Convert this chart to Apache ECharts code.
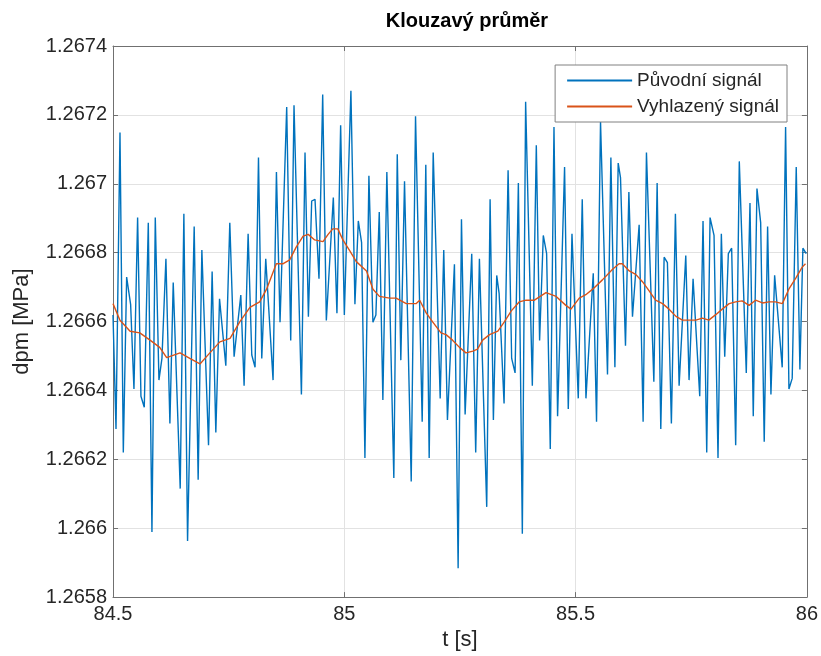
<!DOCTYPE html>
<html>
<head>
<meta charset="utf-8">
<script src="https://cdn.jsdelivr.net/npm/echarts@6/dist/echarts.min.js"></script>
<style>html,body{margin:0;padding:0;background:#fff}#c{width:821px;height:656px}</style>
</head>
<body>
<div id="c"></div>
<script>
var titleText = 'Klouzavý průměr';
var xName = 't [s]';
var yName = 'dpm [MPa]';
var seriesNames = ['Původní signál', 'Vyhlazený signál'];
var xTicks = [84.5, 85, 85.5, 86];
var yTicks = [1.2658, 1.266, 1.2662, 1.2664, 1.2666, 1.2668, 1.267, 1.2672, 1.2674];

var tOrig = [
84.5000,84.5065,84.5151,84.5223,84.5295,84.5381,84.5453,84.5532,84.5604,84.5676,84.5763,84.5842,84.5914,84.5993,84.6058,84.6144,84.6230,84.6302,84.6453,84.6532,84.6612,84.6755,84.6841,84.6921,84.7065,84.7143,84.7223,84.7303,84.7439,
84.7525,84.7618,84.7763,84.7834,84.7921,84.8000,84.8071,84.8145,84.8216,84.8302,84.8460,84.8533,84.8611,84.8755,84.8842,84.8913,84.9073,84.9151,84.9224,84.9295,84.9367,84.9453,84.9533,84.9612,84.9763,84.9841,84.9921,
85.0001,85.0143,85.0230,85.0303,85.0374,85.0446,85.0532,85.0619,85.0683,85.0756,85.0834,85.0920,85.1071,85.1145,85.1222,85.1302,85.1447,85.1540,85.1684,85.1762,85.1835,85.1922,85.2073,85.2150,85.2230,85.2381,85.2461,
85.2533,85.2612,85.2755,85.2841,85.2921,85.3079,85.3152,85.3223,85.3295,85.3347,85.3454,85.3541,85.3618,85.3692,85.3763,85.3849,85.3920,85.4065,85.4151,85.4222,85.4302,85.4374,85.4453,85.4533,85.4611,85.4762,85.4842,85.4922,
85.5058,85.5144,85.5224,85.5382,85.5453,85.5539,85.5690,85.5763,85.5850,85.5921,85.5971,85.6079,85.6152,85.6230,85.6374,85.6460,85.6532,85.6692,85.6763,85.6842,85.6914,85.6985,85.7071,85.7158,85.7238,85.7382,
85.7453,85.7540,85.7684,85.7755,85.7835,85.7907,85.7993,85.8079,85.8151,85.8224,85.8302,85.8374,85.8461,85.8539,85.8690,85.8770,85.8841,85.8921,85.9001,85.9078,85.9151,85.9223,85.9303,85.9467,85.9540,85.9612,85.9683,85.9770,85.9849,85.9914,85.9986
];
var vOrig = [
1.266619,1.266288,1.267149,1.266220,1.266729,1.266650,1.266404,1.266902,1.266383,1.266351,1.266887,1.265989,1.266902,1.266430,1.266493,1.266782,1.266304,1.266713,1.266115,1.266913,1.265963,1.266876,1.266141,1.266808,1.266241,1.266745,1.266278,1.266666,1.266472,
1.266887,1.266498,1.266677,1.266414,1.266855,1.266503,1.266467,1.267076,1.266493,1.266782,1.266430,1.267034,1.266598,1.267223,1.266545,1.267228,1.266388,1.267091,1.266614,1.266950,1.266955,1.266724,1.267259,1.266603,1.266960,1.266624,1.267170,
1.266619,1.267270,1.266650,1.266892,1.266829,1.266204,1.267023,1.266598,1.266619,1.266918,1.266372,1.267034,1.266146,1.267086,1.266488,1.267007,1.266136,1.267196,1.266309,1.267055,1.266204,1.267091,1.266377,1.266808,1.266314,1.266766,1.265884,
1.266897,1.266330,1.266797,1.266220,1.266782,1.266062,1.266955,1.266314,1.266734,1.266682,1.266362,1.267039,1.266493,1.266451,1.267002,1.265984,1.267238,1.266414,1.267112,1.266545,1.266850,1.266797,1.266230,1.267165,1.266325,1.267049,1.266346,1.266855,
1.266377,1.266955,1.266377,1.266740,1.266309,1.267181,1.266446,1.267076,1.266467,1.267060,1.267018,1.266530,1.266976,1.266614,1.266881,1.266309,1.267091,1.266425,1.267002,1.266288,1.266787,1.266771,1.266304,1.266913,1.266414,1.266792,
1.266430,1.266724,1.266383,1.266892,1.266220,1.266902,1.266850,1.266204,1.266855,1.266498,1.266797,1.266813,1.266241,1.267065,1.266451,1.266944,1.266325,1.266986,1.266887,1.266251,1.266876,1.266388,1.266734,1.266467,1.267165,1.266404,1.266435,1.267049,1.266461,1.266813,1.266797
];

var tSmooth = [
84.500,84.515,84.537,84.558,84.580,84.601,84.616,84.645,84.666,84.688,84.706,84.731,84.753,84.774,84.796,84.817,84.832,84.853,84.868,84.882,
84.896,84.911,84.922,84.936,84.954,84.965,84.975,84.986,84.997,85.012,85.026,85.048,85.062,85.076,85.098,85.112,85.134,85.155,85.163,85.177,
85.191,85.209,85.220,85.234,85.249,85.263,85.278,85.288,85.299,85.314,85.332,85.346,85.361,85.378,85.393,85.411,85.436,85.458,85.479,85.490,
85.508,85.522,85.537,85.558,85.580,85.594,85.601,85.616,85.630,85.645,85.659,85.673,85.688,85.702,85.717,85.731,85.745,85.760,85.774,85.788,
85.803,85.817,85.832,85.846,85.860,85.875,85.889,85.904,85.918,85.932,85.947,85.961,85.976,85.990,85.997
];
var vSmooth = [
1.266652,1.266604,1.266572,1.266567,1.266546,1.266525,1.266495,1.266509,1.266493,1.266477,1.266504,1.266541,1.266551,1.266599,1.266641,1.266657,1.266694,1.266768,1.266768,1.266779,
1.266816,1.266848,1.266853,1.266837,1.266832,1.266853,1.266869,1.266869,1.266837,1.266805,1.266774,1.266747,1.266694,1.266673,1.266668,1.266668,1.266652,1.266652,1.266662,1.266625,
1.266599,1.266567,1.266562,1.266546,1.266525,1.266509,1.266514,1.266520,1.266546,1.266562,1.266572,1.266599,1.266631,1.266657,1.266662,1.266662,1.266684,1.266673,1.266647,1.266636,
1.266668,1.266678,1.266694,1.266721,1.266752,1.266768,1.266768,1.266747,1.266737,1.266715,1.266689,1.266662,1.266652,1.266636,1.266615,1.266604,1.266604,1.266604,1.266610,1.266604,
1.266620,1.266636,1.266652,1.266657,1.266660,1.266647,1.266662,1.266654,1.266657,1.266657,1.266652,1.266694,1.266726,1.266758,1.266768
];

function zip(a, b) { var r = []; for (var i = 0; i < a.length && i < b.length; i++) r.push([a[i], b[i]]); return r; }

var FONT = '"Liberation Sans", Arial, Helvetica, sans-serif';
var TXT = '#262626';
var FRAME = '#707070';
var GRID = '#e2e2e2';

var chart = echarts.init(document.getElementById('c'), null, { renderer: 'canvas' });
var xMin = xTicks[0], xMax = xTicks[xTicks.length - 1];
var yMin = yTicks[0], yMax = yTicks[yTicks.length - 1];
var yFmt = function (v) { return String(parseFloat(Number(v).toFixed(4))); };
var xFmt = function (v) { return String(parseFloat(Number(v).toFixed(2))); };

chart.setOption({
  animation: false,
  backgroundColor: '#fff',
  textStyle: { fontFamily: FONT },
  title: {
    text: titleText,
    left: 462, top: 6,
    textAlign: 'center',
    textStyle: { fontFamily: FONT, fontSize: 20, fontWeight: 'bold', color: '#000' }
  },
  legend: {
    orient: 'vertical',
    right: 34, top: 65,
    data: seriesNames,
    icon: 'rect',
    itemWidth: 65, itemHeight: 2,
    itemGap: 5,
    padding: [5, 8, 5, 12],
    backgroundColor: '#fff',
    borderColor: '#808080',
    borderWidth: 1,
    textStyle: { fontFamily: FONT, fontSize: 19, color: TXT, lineHeight: 21 }
  },
  grid: { left: 113, right: 13, top: 46, bottom: 56, containLabel: false },
  xAxis: [{
    type: 'value', min: xMin, max: xMax, interval: 0.5, position: 'bottom',
    name: xName, nameLocation: 'middle', nameGap: 30,
    nameTextStyle: { fontFamily: FONT, fontSize: 22, color: TXT },
    axisLine: { show: true, onZero: false, lineStyle: { color: FRAME, width: 1 } },
    axisTick: { show: true, inside: true, length: 5, lineStyle: { color: FRAME } },
    axisLabel: { fontFamily: FONT, fontSize: 20, color: TXT, margin: 7, formatter: xFmt },
    splitLine: { show: true, lineStyle: { color: GRID, width: 1 } }
  }, {
    type: 'value', min: xMin, max: xMax, interval: 0.5, position: 'top',
    axisLine: { show: true, onZero: false, lineStyle: { color: FRAME, width: 1 } },
    axisTick: { show: true, inside: true, length: 5, lineStyle: { color: FRAME } },
    axisLabel: { show: false }, splitLine: { show: false }
  }],
  yAxis: [{
    type: 'value', min: yMin, max: yMax, interval: 0.0002, position: 'left',
    name: yName, nameLocation: 'middle', nameGap: 80, nameRotate: 90,
    nameTextStyle: { fontFamily: FONT, fontSize: 22, color: TXT },
    axisLine: { show: true, onZero: false, lineStyle: { color: FRAME, width: 1 } },
    axisTick: { show: true, inside: true, length: 5, lineStyle: { color: FRAME } },
    axisLabel: { fontFamily: FONT, fontSize: 20, color: TXT, margin: 6, formatter: yFmt },
    splitLine: { show: true, lineStyle: { color: GRID, width: 1 } }
  }, {
    type: 'value', min: yMin, max: yMax, interval: 0.0002, position: 'right',
    axisLine: { show: true, onZero: false, lineStyle: { color: FRAME, width: 1 } },
    axisTick: { show: true, inside: true, length: 5, lineStyle: { color: FRAME } },
    axisLabel: { show: false }, splitLine: { show: false }
  }],
  series: [{
    name: seriesNames[0], type: 'line', xAxisIndex: 0, yAxisIndex: 0,
    data: zip(tOrig, vOrig), symbol: 'none', smooth: false,
    lineStyle: { color: '#0072BD', width: 1.4 }, itemStyle: { color: '#0072BD' }, z: 2
  }, {
    name: seriesNames[1], type: 'line', xAxisIndex: 0, yAxisIndex: 0,
    data: zip(tSmooth, vSmooth), symbol: 'none', smooth: false,
    lineStyle: { color: '#D95319', width: 1.4 }, itemStyle: { color: '#D95319' }, z: 3
  }]
});
</script>
</body>
</html>
